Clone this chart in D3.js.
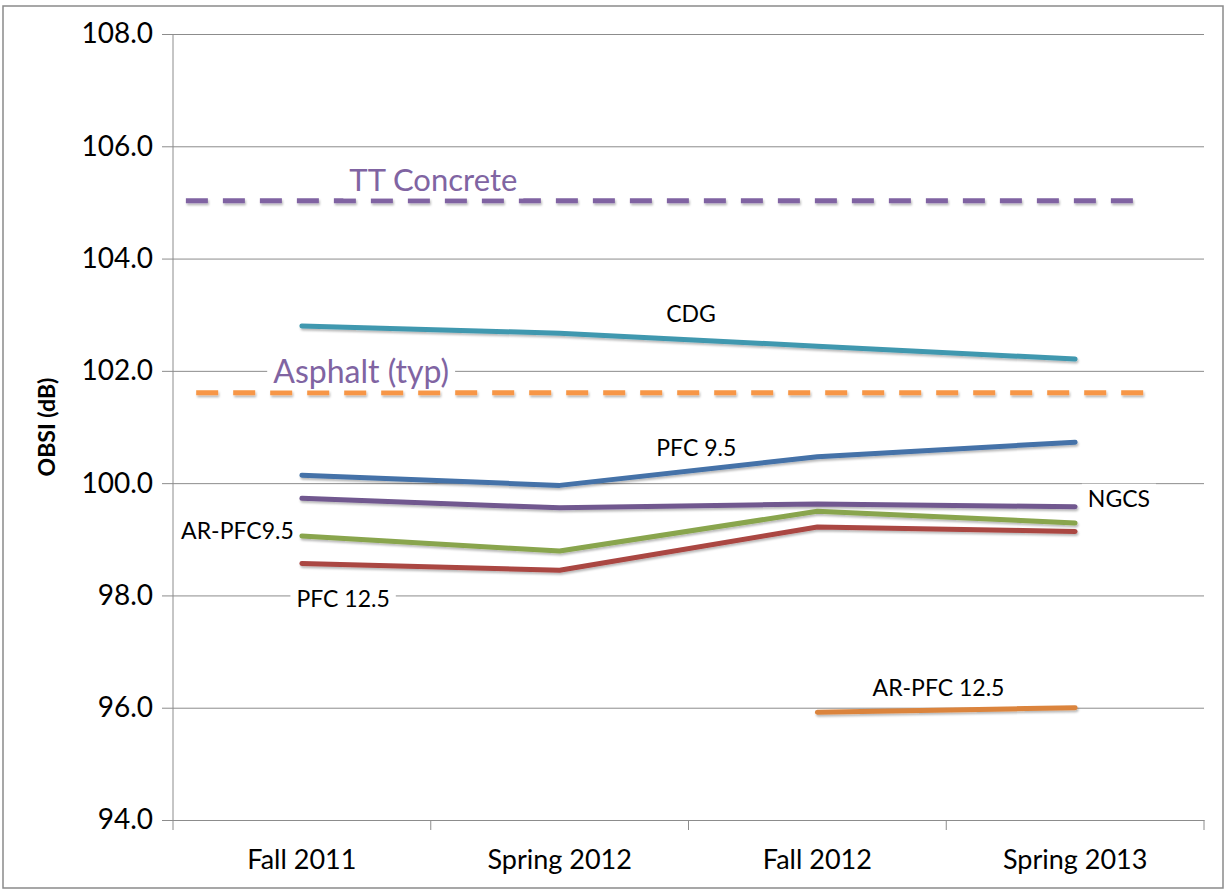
<!DOCTYPE html>
<html>
<head>
<meta charset="utf-8">
<script src="https://cdn.jsdelivr.net/npm/d3@7"></script>
<style>
  body { margin: 0; background: #fff; }
  text { font-family: Lato, "Open Sans", sans-serif; }
</style>
</head>
<body>
<div id="chart"></div>
<script>
// categories and values
const seasons = ["Fall 2011", "Spring 2012", "Fall 2012", "Spring 2013"];
const yTicks = [94, 96, 98, 100, 102, 104, 106, 108];

const cdg      = [102.80, 102.67, 102.44, 102.21];
const pfc95    = [100.14, 99.96, 100.47, 100.73];
const ngcs     = [99.73, 99.56, 99.63, 99.58];
const arPfc95  = [99.06, 98.79, 99.50, 99.29];
const pfc125   = [98.57, 98.45, 99.22, 99.14];
const arPfc125 = [null, null, 95.92, 96.00];

const seriesNames  = ["CDG", "PFC 9.5", "NGCS", "AR-PFC9.5", "PFC 12.5", "AR-PFC 12.5"];
const seriesValues = [cdg, pfc95, ngcs, arPfc95, pfc125, arPfc125];
const seriesColors = ["#4198AF", "#4472A8", "#71588F", "#89A54E", "#AA4643", "#DB843D"];

// typical reference levels (dashed), span given in category index units
const refNames  = ["TT Concrete", "Asphalt (typ)"];
const refValues = [105.03, 101.61];
const refFrom   = [-0.45, -0.41];
const refTo     = [3.28, 3.32];
const refColors = ["#8064A2", "#F79646"];

// label anchors: category index, dB value
const labelText = ["CDG", "PFC 9.5", "NGCS", "AR-PFC9.5", "PFC 12.5", "AR-PFC 12.5", "TT Concrete", "Asphalt (typ)"];
const labelAt   = [1.51, 1.53, 3.17, -0.25, 0.16, 2.47, 0.51, 0.23];
const labelVal  = [103.03, 100.64, 99.74, 99.17, 97.95, 96.37, 105.41, 102.0];
const labelBox  = [false, false, true, false, true, false, true, true];

const W = 1225, H = 890;
const plot = { left: 173, right: 1204, top: 34, bottom: 820 };

const svg = d3.select("#chart").append("svg")
    .attr("width", W).attr("height", H);

const defs = svg.append("defs");
const f = defs.append("filter").attr("id", "shadow")
    .attr("filterUnits", "userSpaceOnUse")
    .attr("x", 0).attr("y", 0).attr("width", W).attr("height", H);
f.append("feDropShadow").attr("dx", 1).attr("dy", 2).attr("stdDeviation", 1.2)
    .attr("flood-color", "#000").attr("flood-opacity", 0.28);

// outer frame
svg.append("rect")
    .attr("x", 3).attr("y", 6).attr("width", W - 5).attr("height", H - 8)
    .attr("fill", "none").attr("stroke", "#8a8a8a").attr("stroke-width", 1.5);

const x = d3.scaleBand().domain(seasons).range([plot.left, plot.right]);
const xi = d3.scaleLinear().domain([0, 3])
    .range([x(seasons[0]) + x.bandwidth() / 2, x(seasons[3]) + x.bandwidth() / 2]);
const y = d3.scaleLinear().domain([94, 108]).range([plot.bottom, plot.top]);

// gridlines + y axis
const yAxis = svg.append("g")
    .attr("transform", "translate(" + plot.left + ",0)")
    .call(d3.axisLeft(y).tickValues(yTicks)
        .tickFormat(d3.format(".1f"))
        .tickSize(-(plot.right - plot.left)).tickPadding(20));
yAxis.select(".domain").remove();
yAxis.selectAll(".tick line").attr("stroke", "#8c8c8c").attr("x1", -11);
yAxis.selectAll(".tick text").attr("font-size", 28).attr("fill", "#000");

svg.append("line")
    .attr("x1", plot.left).attr("x2", plot.left)
    .attr("y1", plot.top).attr("y2", plot.bottom)
    .attr("stroke", "#8c8c8c");

// x axis
const xAxis = svg.append("g")
    .attr("transform", "translate(0," + plot.bottom + ")")
    .call(d3.axisBottom(x).tickSize(0).tickPadding(30));
xAxis.select(".domain").attr("stroke", "#8c8c8c");
xAxis.selectAll(".tick text").attr("font-size", 27).attr("fill", "#000");
svg.append("g").selectAll("line")
    .data(seasons.concat([null]))
    .join("line")
    .attr("x1", (d, i) => plot.left + i * x.step())
    .attr("x2", (d, i) => plot.left + i * x.step())
    .attr("y1", plot.bottom).attr("y2", plot.bottom + 10)
    .attr("stroke", "#8c8c8c");

// axis title
svg.append("text")
    .attr("transform", "translate(46," + ((plot.top + plot.bottom) / 2) + ") rotate(-90)")
    .attr("text-anchor", "middle")
    .attr("dominant-baseline", "central")
    .attr("font-size", 23).attr("font-weight", "bold")
    .text("OBSI (dB)");

// reference dashed lines
svg.append("g").selectAll("line")
    .data(refNames)
    .join("line")
    .attr("x1", (d, i) => xi(refFrom[i]))
    .attr("x2", (d, i) => xi(refTo[i]))
    .attr("y1", (d, i) => y(refValues[i]))
    .attr("y2", (d, i) => y(refValues[i]))
    .attr("stroke", (d, i) => refColors[i])
    .attr("stroke-width", 5)
    .attr("stroke-dasharray", "22,15")
    .attr("filter", "url(#shadow)");

// series lines
const line = d3.line()
    .defined(d => d != null)
    .x((d, i) => x(seasons[i]) + x.bandwidth() / 2)
    .y(d => y(d));

svg.append("g").selectAll("path")
    .data(seriesValues)
    .join("path")
    .attr("d", d => line(d))
    .attr("fill", "none")
    .attr("stroke", (d, i) => seriesColors[i])
    .attr("stroke-width", 5)
    .attr("stroke-linecap", "round")
    .attr("stroke-linejoin", "round")
    .attr("filter", "url(#shadow)");

// labels
const lab = svg.append("g").selectAll("g")
    .data(labelText)
    .join("g")
    .attr("transform", (d, i) => "translate(" + xi(labelAt[i]) + "," + y(labelVal[i]) + ")");

lab.append("text")
    .attr("text-anchor", "middle")
    .attr("dominant-baseline", "central")
    .attr("font-size", (d, i) => i == 6 ? 31 : i == 7 ? 32 : 23)
    .attr("fill", (d, i) => i >= 6 ? "#8064A2" : "#000")
    .text(d => d);

lab.each(function(d, i) {
  if (!labelBox[i]) return;
  const g = d3.select(this);
  const b = g.select("text").node().getBBox();
  g.insert("rect", "text")
    .attr("x", b.x - 6).attr("y", b.y)
    .attr("width", b.width + 12).attr("height", b.height)
    .attr("fill", "#fff");
});
</script>
</body>
</html>
